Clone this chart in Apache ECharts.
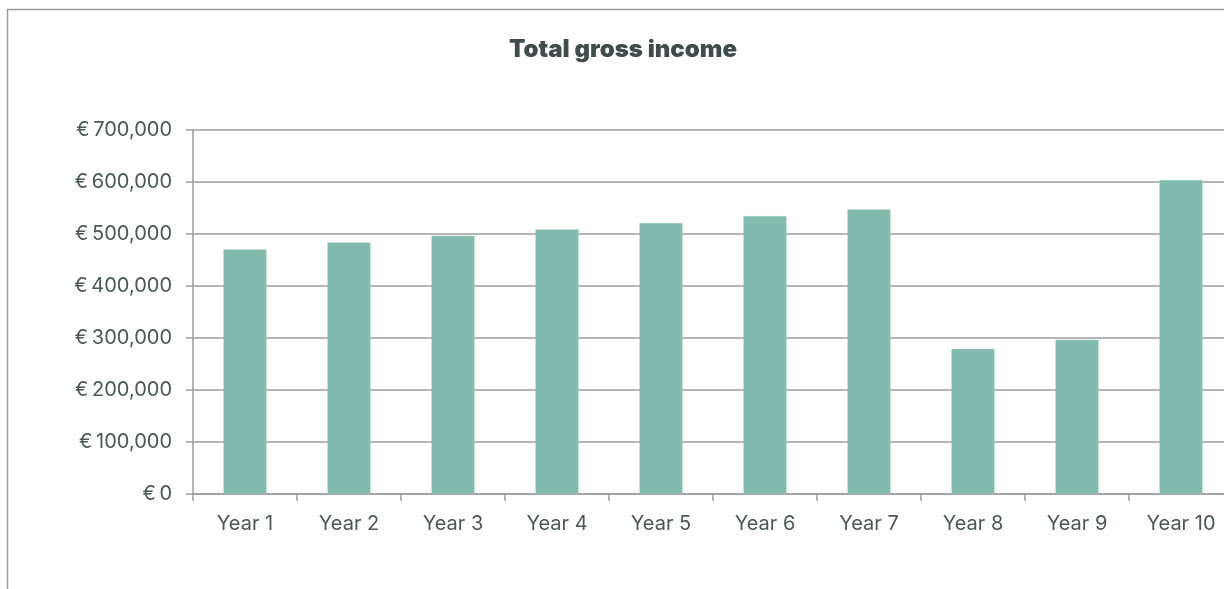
<!DOCTYPE html>
<html>
<head>
<meta charset="utf-8">
<script src="https://cdn.jsdelivr.net/npm/echarts@6/dist/echarts.min.js"></script>
<style>
html,body{margin:0;padding:0;overflow:hidden;background:#fff;}
#chart{width:1246px;height:589px;}
</style>
</head>
<body>
<div id="chart"></div>
<script>
const categories = ['Year 1','Year 2','Year 3','Year 4','Year 5','Year 6','Year 7','Year 8','Year 9','Year 10'];
const grossIncome = [470400, 483800, 496500, 508800, 521000, 534400, 547300, 279100, 296400, 603700];
const yTicks = [0, 100000, 200000, 300000, 400000, 500000, 600000, 700000];

const chart = echarts.init(document.getElementById('chart'), null, {renderer:'canvas'});
const labelColor = '#4b5858';
const lineColor = '#9d9d9d';
const font = 'Inter, Roboto, sans-serif';

chart.setOption({
  animation: false,
  backgroundColor: '#fff',
  title: {
    text: 'Total gross income',
    left: 'center',
    top: 33,
    textStyle: {fontFamily: font, fontWeight: 900, fontSize: 24, color: '#3f4c4c'}
  },
  graphic: [{
    type: 'rect',
    shape: {x: 7.5, y: 9.5, width: 1300, height: 700},
    style: {fill: 'none', stroke: '#9a9a9a', lineWidth: 1.5},
    silent: true
  }],
  grid: {left: 193, top: 130, width: 1040, height: 364, containLabel: false},
  xAxis: {
    type: 'category',
    data: categories,
    boundaryGap: true,
    axisLine: {show: true, lineStyle: {color: lineColor, width: 1.5}},
    axisTick: {show: true, length: 7, alignWithLabel: false, lineStyle: {color: lineColor, width: 1.5}},
    axisLabel: {margin: 20, color: labelColor, fontFamily: font, fontSize: 20}
  },
  yAxis: {
    type: 'value',
    min: yTicks[0],
    max: yTicks[yTicks.length - 1],
    interval: yTicks[1] - yTicks[0],
    axisLine: {show: true, lineStyle: {color: lineColor, width: 1.5}},
    axisTick: {show: true, length: 7, lineStyle: {color: lineColor, width: 1.5}},
    splitLine: {show: true, lineStyle: {color: lineColor, width: 1.5}},
    axisLabel: {
      margin: 21, color: labelColor, fontFamily: font, fontSize: 20,
      formatter: v => '€\u2009' + v.toLocaleString('en-US')
    }
  },
  series: [{
    type: 'bar',
    data: grossIncome,
    barWidth: 43,
    itemStyle: {color: '#82bbad', borderColor: '#9ccabe', borderWidth: 0.5}
  }]
});
</script>
</body>
</html>
